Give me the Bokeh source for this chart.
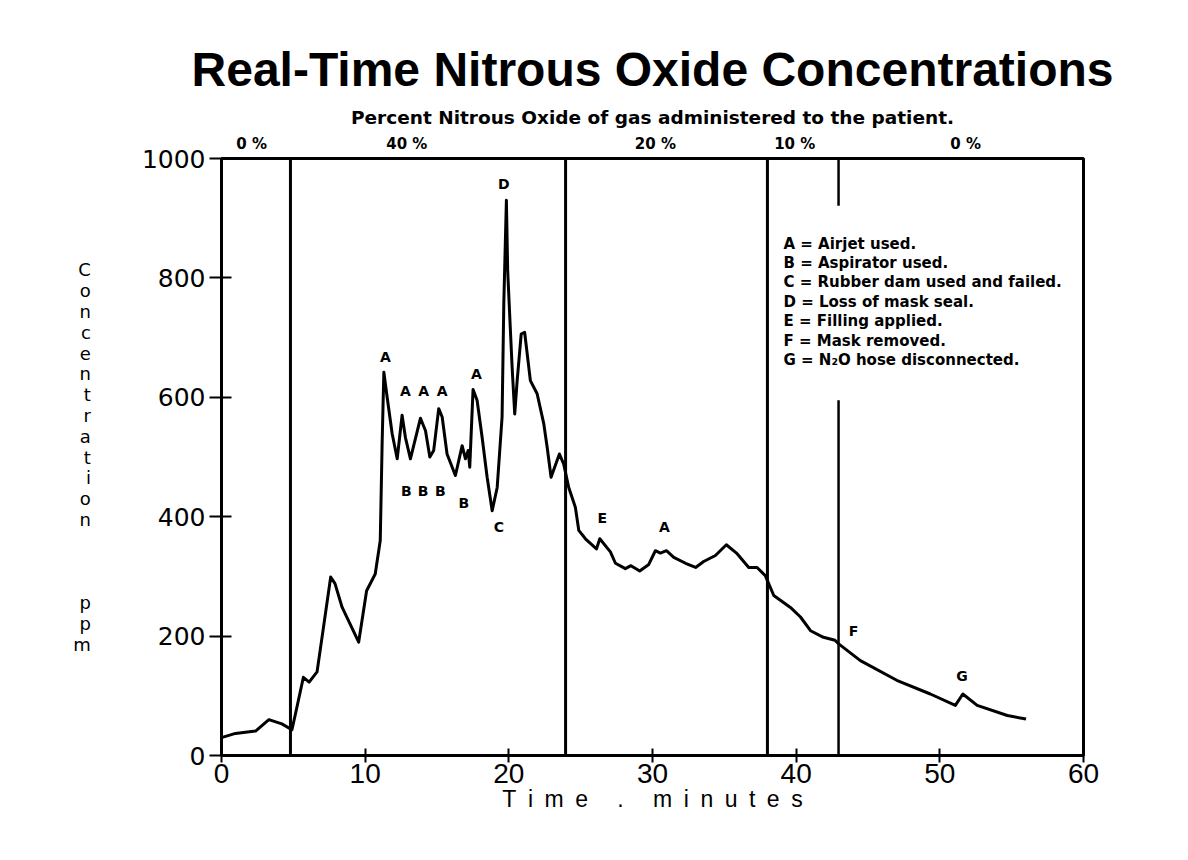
from bokeh.plotting import figure
from bokeh.models import Range1d, Label, FixedTicker, LinearAxis
from bokeh.embed import file_html
from bokeh.resources import INLINE

# ---------------- data ----------------
time_min = [0, 0.97, 2.37, 3.3, 4.2, 4.9, 5.15, 5.7, 6.1, 6.65, 7.1, 7.6, 7.9, 8.4, 9.55,
            10.1, 10.7, 11.05, 11.18, 11.3, 11.53, 11.88, 12.23, 12.57, 12.8, 13.15, 13.85,
            14.2, 14.5, 14.77, 15.12, 15.36, 15.7, 16.28, 16.75, 16.98, 17.17, 17.28, 17.51,
            17.79, 18.14, 18.49, 18.84, 19.19, 19.53, 19.65, 19.83, 19.92, 20.1, 20.23, 20.41,
            20.58, 20.86, 21.1, 21.5, 21.97, 22.43, 22.67, 22.94, 23.52, 23.82, 24.17, 24.63,
            24.87, 25.33, 26.1, 26.33, 27.07, 27.42, 28.11, 28.5, 29.11, 29.74, 30.2, 30.55,
            30.97, 31.48, 32.3, 33.0, 33.56, 34.38, 35.14, 35.89, 36.7, 37.28, 37.86, 38.44,
            39.6, 40.3, 41.0, 41.9, 42.7, 42.96, 44.47, 47.0, 49.34, 51.08, 51.6, 52.6, 54.7, 56.0]
conc_ppm = [30, 37, 41, 60, 53, 43, 70, 131, 123, 140, 215, 299, 288, 248, 190,
            276, 304, 360, 522, 642, 600, 539, 497, 570, 533, 497, 565,
            544, 500, 511, 581, 567, 505, 469, 519, 497, 511, 483, 613,
            595, 533, 466, 410, 449, 567, 757, 930, 812, 717, 650, 572,
            628, 706, 709, 628, 606, 556, 516, 466, 505, 488, 449, 416,
            377, 363, 346, 363, 341, 322, 313, 318, 309, 320, 343, 339,
            343, 332, 322, 315, 325, 335, 353, 338, 315, 315, 301, 268,
            248, 232, 209, 198, 193, 187, 159, 126, 103, 84, 103, 84, 67, 61]

phase_boundaries = [4.8, 23.95, 38.0]
mask_removed_t = 42.95
mask_line_low = 595
mask_line_high = 921

phase_labels = ["0 %", "40 %", "20 %", "10 %", "0 %"]
phase_label_t = [2.1, 12.9, 30.2, 39.9, 51.8]

event_letters = ["A", "A", "A", "A", "A", "B", "B", "B", "B", "C", "D", "E", "A", "F", "G"]
event_t = [11.41, 12.8, 14.08, 15.36, 17.75, 12.87, 14.04, 15.24, 16.86, 19.3, 19.65, 26.5, 30.83, 44.0, 51.54]
event_c = [667, 611, 611, 611, 639, 443, 443, 443, 423, 382, 958, 398, 382, 209, 134]

legend_lines = ["A = Airjet used.",
                "B = Aspirator used.",
                "C = Rubber dam used and failed.",
                "D = Loss of mask seal.",
                "E = Filling applied.",
                "F = Mask removed.",
                "G = N\u2082O hose disconnected."]

title_text = "Real-Time Nitrous Oxide Concentrations"
subtitle_text = "Percent Nitrous Oxide of gas administered to the patient."
x_label = "Time . minutes"
y_label = "Concentration   ppm"
x_ticks = [0, 10, 20, 30, 40, 50, 60]
y_ticks = [0, 200, 400, 600, 800, 1000]

# ---------------- layout ----------------
W, H = 1180, 850
ML, MT = 221, 158
MR, MB = W - 1083, H - 755
FW, FH = W - ML - MR, H - MT - MB
T_PER_PX = 60.0 / FW
C_PER_PX = 1000.0 / FH

def tx(px):
    return (px - ML) * T_PER_PX

def cy(py):
    return (MT + FH - py) * C_PER_PX

p = figure(width=W, height=H, output_backend="svg", toolbar_location=None,
           x_range=Range1d(0, 60), y_range=Range1d(0, 1000),
           min_border_left=ML, min_border_right=MR, min_border_top=MT, min_border_bottom=MB)
p.title.text = title_text
p.title.align = "center"
p.title.text_font = "Liberation Sans"
p.title.text_font_style = "bold"
p.title.text_font_size = "48px"
p.title.text_color = "black"
p.title.standoff = 15

p.xgrid.visible = False
p.ygrid.visible = False
p.background_fill_color = "white"
p.border_fill_color = "white"
p.outline_line_color = "black"
p.outline_line_width = 3

for ax in (p.xaxis[0], p.yaxis[0]):
    ax.axis_line_color = "black"
    ax.axis_line_width = 3
    ax.major_tick_line_color = "black"
    ax.major_tick_line_width = 2
    ax.minor_tick_line_color = None
    ax.major_label_text_color = "black"
    ax.axis_label_text_color = "black"
    ax.axis_label_text_font_style = "normal"

p.xaxis.ticker = FixedTicker(ticks=x_ticks)
p.yaxis.ticker = FixedTicker(ticks=y_ticks)
p.xaxis.major_tick_in = 7
p.xaxis.major_tick_out = 7
p.xaxis.major_label_standoff = 1
p.xaxis.major_label_text_font = "Liberation Sans"
p.xaxis.major_label_text_font_size = "28px"
p.xaxis.axis_label = "\u2002".join(x_label)
p.xaxis.axis_label_text_font = "Liberation Sans"
p.xaxis.axis_label_text_font_size = "23px"
p.xaxis.axis_label_standoff = 0

p.yaxis.major_tick_in = 10
p.yaxis.major_tick_out = 12
p.yaxis.major_label_standoff = 4
p.yaxis.major_label_text_font = "DejaVu Sans"
p.yaxis.major_label_text_font_size = "25px"
p.yaxis.axis_label = "\n".join(y_label)
p.yaxis.axis_label_orientation = "horizontal"
p.yaxis.axis_label_text_font = "DejaVu Sans"
p.yaxis.axis_label_text_font_size = "18px"
p.yaxis.axis_label_text_line_height = 0.99
p.yaxis.axis_label_standoff = 48

# top axis carrying the administered-gas phases
top = LinearAxis(ticker=FixedTicker(ticks=phase_label_t),
                 major_label_overrides={t: s for t, s in zip(phase_label_t, phase_labels)},
                 axis_line_color=None, major_tick_line_color=None, minor_tick_line_color=None,
                 major_tick_in=0, major_tick_out=0, major_label_standoff=6,
                 major_label_text_font="DejaVu Sans", major_label_text_font_style="bold",
                 major_label_text_font_size="15px", major_label_text_color="black",
                 axis_label=subtitle_text, axis_label_standoff=4,
                 axis_label_text_font="DejaVu Sans", axis_label_text_font_style="bold",
                 axis_label_text_font_size="18.5px", axis_label_text_color="black")
p.add_layout(top, "above")

# phase boundaries
p.segment(x0=phase_boundaries, y0=[0] * len(phase_boundaries),
          x1=phase_boundaries, y1=[1000] * len(phase_boundaries),
          line_color="black", line_width=3)
p.segment(x0=[mask_removed_t, mask_removed_t], y0=[0, mask_line_high],
          x1=[mask_removed_t, mask_removed_t], y1=[mask_line_low, 1000],
          line_color="black", line_width=2.5)

# concentration trace
p.line(time_min, conc_ppm, line_color="black", line_width=3, line_join="round")

# event letters
for L, t, c in zip(event_letters, event_t, event_c):
    p.add_layout(Label(x=t, y=c, text=L, text_align="center", text_baseline="middle",
                       text_font="DejaVu Sans", text_font_style="bold",
                       text_font_size="14px", text_color="black"))

# legend text
for i, s in enumerate(legend_lines):
    p.add_layout(Label(x=tx(783), y=cy(243 + 19.4 * i), text=s, text_align="left",
                       text_baseline="middle", text_font="DejaVu Sans",
                       text_font_style="bold", text_font_size="15px", text_color="black"))

open("out.html", "w").write(file_html(p, INLINE))
